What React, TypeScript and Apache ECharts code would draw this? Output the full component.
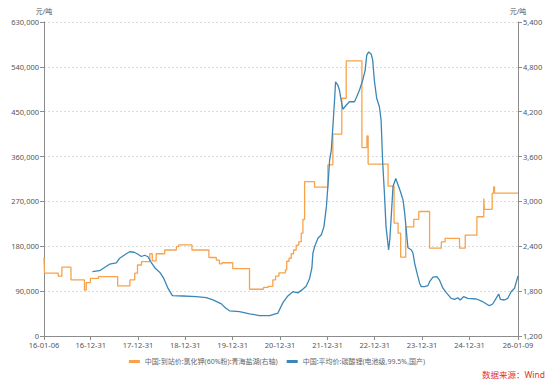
import React, { useEffect, useRef } from 'react';
import * as echarts from 'echarts';

// 中国:到站价:氯化钾(60%粉):青海盐湖 (right axis, step changes)
const potashDates = [
  '2016-01-06', '2016-01-10', '2016-04-25', '2016-05-23', '2016-08-01', '2016-11-13', '2016-11-27',
  '2016-12-29', '2017-03-02', '2017-07-27', '2017-10-30', '2017-12-06', '2017-12-27', '2018-01-27',
  '2018-04-01', '2018-04-20', '2018-05-20', '2018-07-25', '2018-10-23', '2018-11-10', '2019-02-20',
  '2019-07-01', '2019-08-27', '2019-09-20', '2019-10-10', '2020-01-01', '2020-05-09', '2020-08-25',
  '2020-10-01', '2020-11-05', '2020-11-26', '2020-12-22', '2021-02-10', '2021-02-20', '2021-03-10',
  '2021-03-27', '2021-04-14', '2021-05-04', '2021-05-24', '2021-06-12', '2021-06-25', '2021-07-08',
  '2021-09-23', '2022-01-03', '2022-02-11', '2022-04-21', '2022-05-25', '2022-09-23', '2022-11-01',
  '2022-11-10', '2023-04-13', '2023-05-29', '2023-06-29', '2023-07-19', '2023-08-27', '2023-10-28',
  '2023-12-06', '2024-02-27', '2024-05-28', '2024-06-26', '2024-10-15', '2024-11-28', '2025-02-26',
  '2025-04-20', '2025-04-25', '2025-06-24', '2025-07-05', '2025-07-12', '2026-01-09'
];
const potashPrices = [
  2250, 2040, 2000, 2120, 1950, 1815, 1915,
  1970, 1995, 1870, 1950, 2040, 2150, 2195,
  2300, 2205, 2300, 2350, 2395, 2420, 2350,
  2250, 2215, 2165, 2180, 2100, 1825, 1850,
  1865, 1950, 2000, 2045, 2085, 2200, 2240,
  2300, 2350, 2415, 2460, 2575, 2760, 3265,
  3190, 3490, 3900, 4380, 4880, 3720, 3875,
  3500, 3205, 2710, 2575, 2255, 2660, 2760,
  2865, 2375, 2460, 2505, 2375, 2550, 2795,
  3040, 2895, 3110, 3195, 3110, 3110
];

// 中国:平均价:碳酸锂(电池级,99.5%,国产) (left axis)
const lithiumDates = [
  '2017-01-13', '2017-03-10', '2017-04-26', '2017-05-26', '2017-07-17', '2017-08-12', '2017-09-20',
  '2017-10-28', '2017-12-01', '2017-12-31', '2018-01-26', '2018-02-21', '2018-03-18', '2018-04-13',
  '2018-05-09', '2018-06-16', '2018-07-17', '2018-08-19', '2018-09-22', '2018-12-12', '2019-03-25',
  '2019-06-11', '2019-08-01', '2019-10-05', '2019-11-09', '2019-12-07', '2020-02-22', '2020-05-10',
  '2020-07-26', '2020-10-11', '2020-12-14', '2021-01-22', '2021-03-01', '2021-04-09', '2021-05-17',
  '2021-06-15', '2021-07-20', '2021-08-15', '2021-09-02', '2021-09-10', '2021-09-23', '2021-10-19',
  '2021-11-14', '2021-12-04', '2021-12-23', '2022-01-09', '2022-01-17', '2022-01-30', '2022-02-11',
  '2022-02-24', '2022-03-04', '2022-03-22', '2022-04-03', '2022-04-16', '2022-04-29', '2022-05-25',
  '2022-06-19', '2022-07-28', '2022-08-14', '2022-09-04', '2022-09-29', '2022-10-18', '2022-10-30',
  '2022-11-14', '2022-12-03', '2022-12-15', '2022-12-28', '2023-01-15', '2023-02-05', '2023-02-18',
  '2023-03-02', '2023-03-15', '2023-03-28', '2023-04-17', '2023-04-26', '2023-05-05', '2023-05-21',
  '2023-06-11', '2023-06-29', '2023-07-17', '2023-08-06', '2023-08-19', '2023-09-01', '2023-09-13',
  '2023-10-10', '2023-10-22', '2023-11-04', '2023-11-22', '2023-12-12', '2023-12-25', '2024-01-20',
  '2024-02-14', '2024-02-27', '2024-03-24', '2024-04-23', '2024-05-14', '2024-06-09', '2024-07-05',
  '2024-08-12', '2024-09-07', '2024-10-02', '2024-10-20', '2024-11-15', '2024-12-18', '2025-02-22',
  '2025-04-12', '2025-06-02', '2025-06-28', '2025-07-24', '2025-08-13', '2025-08-26', '2025-09-26',
  '2025-10-22', '2025-11-17', '2025-12-13', '2026-01-09'
];
const lithiumPrices = [
  129000, 131000, 139000, 144000, 146500, 156000, 163000,
  169000, 168000, 164000, 159500, 162000, 159000, 147000,
  137000, 128000, 116000, 96000, 81000, 80300, 79000,
  77000, 72500, 64500, 55600, 50500, 48800, 44500,
  41000, 40700, 46000, 67000, 80500, 89000, 86500,
  92000, 100000, 115000, 136000, 166000, 179000, 196000,
  203000, 219000, 259000, 320000, 353000, 373000, 420000,
  473000, 510000, 503000, 493000, 473000, 455000, 463000,
  470000, 470000, 480000, 493000, 513000, 533000, 563000,
  570000, 566000, 554000, 513000, 477000, 460000, 433000,
  350000, 290000, 220000, 172500, 193000, 230000, 300000,
  316000, 303000, 290000, 273000, 247000, 210000, 177000,
  172500, 166000, 146000, 126000, 106000, 99000, 99000,
  101000, 109000, 118000, 119000, 112000, 96000, 87000,
  75600, 73600, 76800, 72200, 78900, 75600, 74200,
  68800, 60800, 64200, 75600, 84300, 73600, 72200,
  75600, 88900, 95700, 120400
];

const xLabelDates = [
  '2016-01-06', '2016-12-31', '2017-12-31', '2018-12-31', '2019-12-31', '2020-12-31',
  '2021-12-31', '2022-12-31', '2023-12-31', '2024-12-31', '2026-01-09'
];
const xMin = '2016-01-06';
const xMax = '2026-01-09';
const leftAxis = { min: 0, max: 630000, interval: 90000 };
const rightAxis = { min: 1200, max: 5400, interval: 600 };

const potashName = '中国:到站价:氯化钾(60%粉):青海盐湖(右轴)';
const lithiumName = '中国:平均价:碳酸锂(电池级,99.5%,国产)';

function ts(s: string): number {
  const [y, m, d] = s.split('-').map(Number);
  return Date.UTC(y, m - 1, d);
}
function pad(n: number) {
  return n < 10 ? '0' + n : '' + n;
}
function fmtDate(v: number) {
  const d = new Date(v);
  return String(d.getUTCFullYear()).slice(2) + '-' + pad(d.getUTCMonth() + 1) + '-' + pad(d.getUTCDate());
}
function fmtNum(v: number) {
  return String(v).replace(/\B(?=(\d{3})+(?!\d))/g, ',');
}

const FONT = '"Noto Sans", "Noto Sans CJK SC", sans-serif';
const AXIS_COLOR = '#8c8c8c';
const LABEL_COLOR = '#555';

export default function App() {
  const ref = useRef<HTMLDivElement>(null);
  useEffect(() => {
    if (!ref.current) return;
    const chart = echarts.init(ref.current, undefined, { renderer: 'svg' });
    const tickVals = xLabelDates.map(ts);
    chart.setOption({
      animation: false,
      textStyle: { fontFamily: FONT },
      grid: { left: 44, right: 36, top: 22, bottom: 48, outerBoundsMode: 'none' },
      legend: {
        top: 353,
        left: 'center',
        icon: 'rect',
        itemWidth: 11,
        itemHeight: 3,
        itemGap: 9,
        textStyle: { fontSize: 7, color: '#666', fontFamily: FONT },
        data: [potashName, lithiumName]
      },
      xAxis: {
        type: 'value',
        min: ts(xMin),
        max: ts(xMax),
        axisLine: { show: true, lineStyle: { color: AXIS_COLOR } },
        axisTick: { show: true, length: 4, customValues: tickVals, lineStyle: { color: AXIS_COLOR } },
        axisLabel: {
          customValues: tickVals,
          formatter: (v: number) => fmtDate(v),
          fontSize: 7.5,
          color: LABEL_COLOR,
          margin: 5
        },
        splitLine: { show: false }
      },
      yAxis: [
        {
          type: 'value',
          min: leftAxis.min,
          max: leftAxis.max,
          interval: leftAxis.interval,
          name: '元/吨',
          nameGap: 7,
          nameTextStyle: { fontSize: 7, color: LABEL_COLOR },
          axisLine: { show: true, lineStyle: { color: AXIS_COLOR } },
          axisTick: { show: true, length: 4, lineStyle: { color: AXIS_COLOR } },
          axisLabel: { formatter: (v: number) => fmtNum(v), fontSize: 7.5, color: LABEL_COLOR, margin: 5 },
          splitLine: { show: true, lineStyle: { color: '#dcdcdc', type: [2, 2], width: 1 } }
        },
        {
          type: 'value',
          position: 'right',
          min: rightAxis.min,
          max: rightAxis.max,
          interval: rightAxis.interval,
          name: '元/吨',
          nameGap: 7,
          nameTextStyle: { fontSize: 7, color: LABEL_COLOR },
          axisLine: { show: true, lineStyle: { color: AXIS_COLOR } },
          axisTick: { show: true, length: 4, lineStyle: { color: AXIS_COLOR } },
          axisLabel: { formatter: (v: number) => fmtNum(v), fontSize: 7.5, color: LABEL_COLOR, margin: 5 },
          splitLine: { show: false }
        }
      ],
      series: [
        {
          name: potashName,
          type: 'line',
          yAxisIndex: 1,
          step: 'end',
          symbol: 'none',
          lineStyle: { color: '#F8A24C', width: 1.3 },
          itemStyle: { color: '#F8A24C' },
          data: potashDates.map((d, i) => [ts(d), potashPrices[i]])
        },
        {
          name: lithiumName,
          type: 'line',
          yAxisIndex: 0,
          symbol: 'none',
          lineStyle: { color: '#3A87B8', width: 1.3 },
          itemStyle: { color: '#3A87B8' },
          data: lithiumDates.map((d, i) => [ts(d), lithiumPrices[i]])
        }
      ],
      graphic: [
        {
          type: 'text',
          right: 9,
          top: 370,
          style: { text: '数据来源：Wind', fill: '#e3312b', fontSize: 8.5, fontFamily: FONT }
        }
      ]
    });
    return () => chart.dispose();
  }, []);
  return (
    <div
      ref={ref}
      style={{ position: 'fixed', left: 0, top: 0, width: 554, height: 384, background: '#fff' }}
    />
  );
}
